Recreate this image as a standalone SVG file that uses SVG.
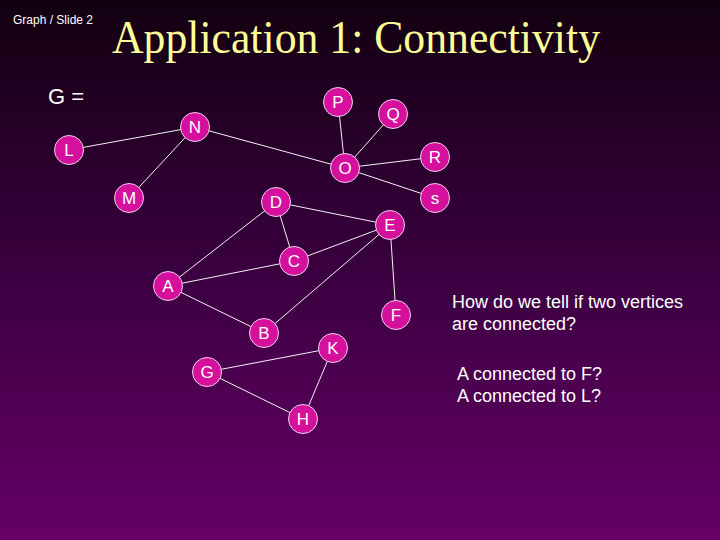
<svg xmlns="http://www.w3.org/2000/svg" width="720" height="540" viewBox="0 0 720 540">
<defs>
<linearGradient id="bg" x1="0" y1="0" x2="0" y2="1">
<stop offset="0" stop-color="#120010"/>
<stop offset="0.5" stop-color="#3a0040"/>
<stop offset="1" stop-color="#660066"/>
</linearGradient>
<style>
.n circle{fill:#d4109c;stroke:#f0d0f0;stroke-width:1}
.n text{fill:#fff;font-family:"Liberation Sans",Arial,sans-serif;font-size:17px;text-anchor:middle}
.e line{stroke:#f4f0f4;stroke-width:1}
.t{font-family:"Liberation Sans",Arial,sans-serif;fill:#fff}
</style>
</defs>
<rect width="720" height="540" fill="url(#bg)"/>
<text x="13" y="24" class="t" font-size="12" fill="#e0e0e0">Graph / Slide 2</text>
<text x="112" y="53" font-family="'Liberation Serif','Times New Roman',serif" font-size="46" fill="#ffff99" textLength="488" lengthAdjust="spacingAndGlyphs">Application 1: Connectivity</text>
<text x="48" y="104" class="t" font-size="22">G =</text>
<g id="edges" class="e">
<line x1="69" y1="150" x2="195" y2="127"/>
<line x1="195" y1="127" x2="129" y2="198"/>
<line x1="195" y1="127" x2="345" y2="168"/>
<line x1="345" y1="168" x2="338" y2="102"/>
<line x1="345" y1="168" x2="393" y2="114"/>
<line x1="345" y1="168" x2="435" y2="157"/>
<line x1="345" y1="168" x2="435" y2="198"/>
<line x1="276" y1="202" x2="390" y2="225"/>
<line x1="276" y1="202" x2="168" y2="286"/>
<line x1="276" y1="202" x2="294" y2="261"/>
<line x1="390" y1="225" x2="294" y2="261"/>
<line x1="390" y1="225" x2="264" y2="333"/>
<line x1="390" y1="225" x2="396" y2="315"/>
<line x1="168" y1="286" x2="294" y2="261"/>
<line x1="168" y1="286" x2="264" y2="333"/>
<line x1="207" y1="372" x2="333" y2="348"/>
<line x1="207" y1="372" x2="303" y2="419"/>
<line x1="333" y1="348" x2="303" y2="419"/>
</g>
<g id="P" class="n"><circle cx="338" cy="102" r="14.5"/><text x="338" y="108">P</text></g>
<g id="Q" class="n"><circle cx="393" cy="114" r="14.5"/><text x="393" y="120">Q</text></g>
<g id="N" class="n"><circle cx="195" cy="127" r="14.5"/><text x="195" y="133">N</text></g>
<g id="L" class="n"><circle cx="69" cy="150" r="14.5"/><text x="69" y="156">L</text></g>
<g id="R" class="n"><circle cx="435" cy="157" r="14.5"/><text x="435" y="163">R</text></g>
<g id="O" class="n"><circle cx="345" cy="168" r="14.5"/><text x="345" y="174">O</text></g>
<g id="M" class="n"><circle cx="129" cy="198" r="14.5"/><text x="129" y="204">M</text></g>
<g id="D" class="n"><circle cx="276" cy="202" r="14.5"/><text x="276" y="208">D</text></g>
<g id="S" class="n"><circle cx="435" cy="198" r="14.5"/><text x="435" y="204">s</text></g>
<g id="E" class="n"><circle cx="390" cy="225" r="14.5"/><text x="390" y="231">E</text></g>
<g id="C" class="n"><circle cx="294" cy="261" r="14.5"/><text x="294" y="267">C</text></g>
<g id="A" class="n"><circle cx="168" cy="286" r="14.5"/><text x="168" y="292">A</text></g>
<g id="F" class="n"><circle cx="396" cy="315" r="14.5"/><text x="396" y="321">F</text></g>
<g id="B" class="n"><circle cx="264" cy="333" r="14.5"/><text x="264" y="339">B</text></g>
<g id="K" class="n"><circle cx="333" cy="348" r="14.5"/><text x="333" y="354">K</text></g>
<g id="G" class="n"><circle cx="207" cy="372" r="14.5"/><text x="207" y="378">G</text></g>
<g id="H" class="n"><circle cx="303" cy="419" r="14.5"/><text x="303" y="425">H</text></g>
<g class="t" font-size="18">
<text x="452" y="308">How do we tell if two vertices</text>
<text x="452" y="330">are connected?</text>
<text x="457" y="380">A connected to F?</text>
<text x="457" y="402">A connected to L?</text>
</g>
</svg>
